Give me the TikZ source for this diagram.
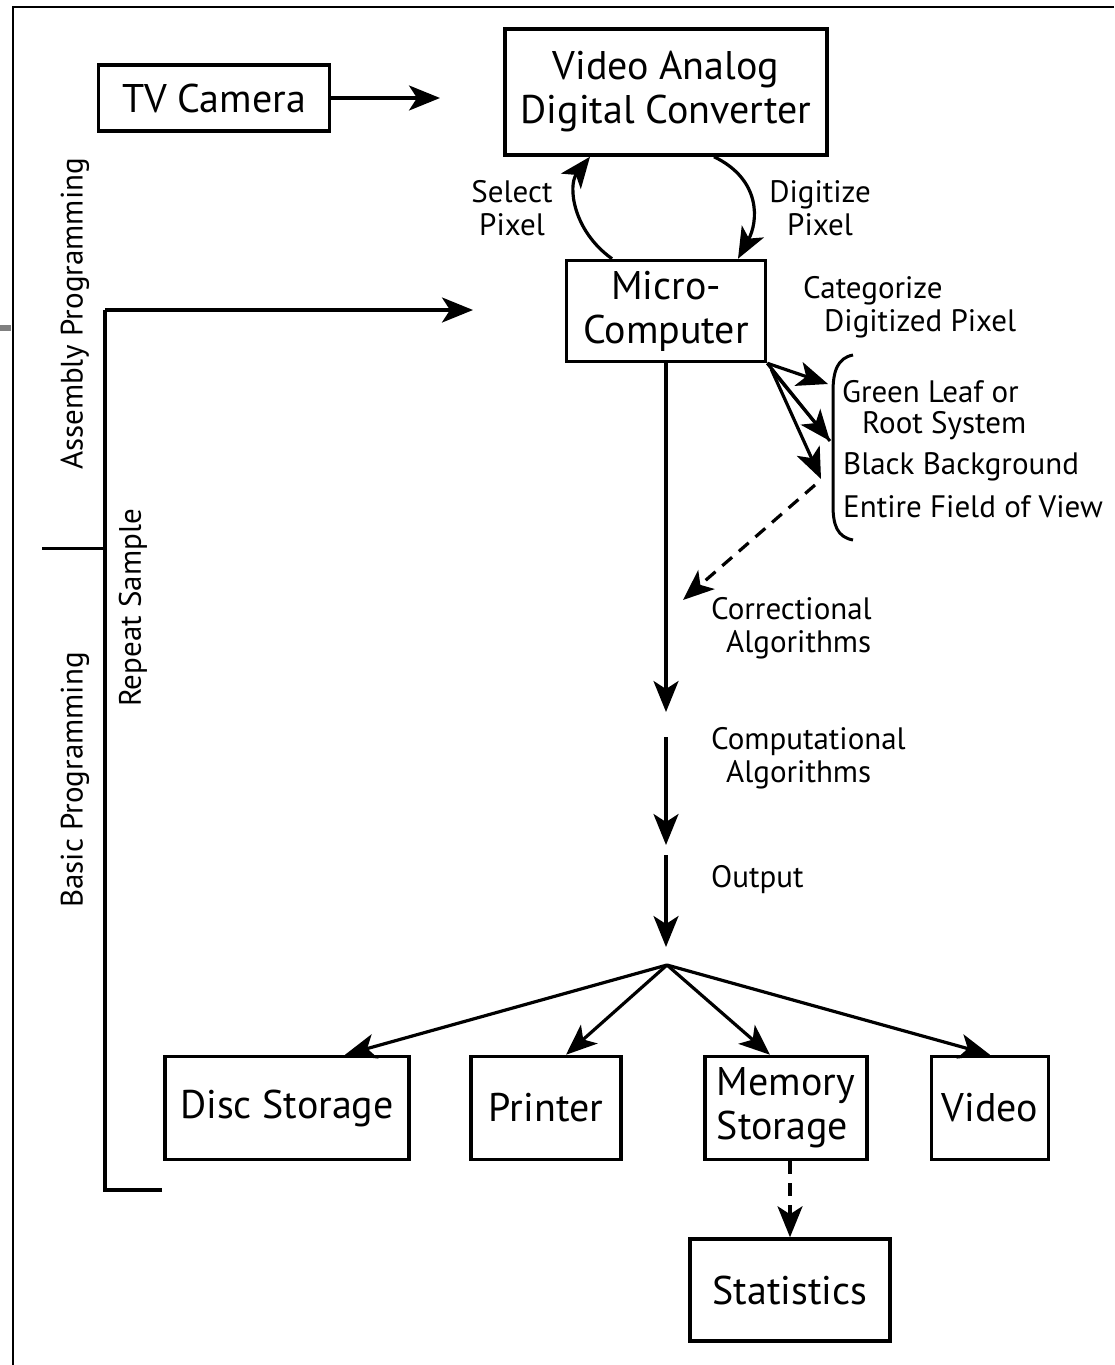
\documentclass[tikz,border=0pt]{standalone}
\usepackage{fontspec}
\setmainfont{PT Sans}
\usetikzlibrary{arrows.meta}

\newcommand\boxfont{\fontsize{40}{44}\selectfont}
\newcommand\lblfont{\fontsize{31}{33}\selectfont}

\tikzset{
  box/.style={draw, line width=3.5pt, font=\boxfont, align=center, inner sep=2pt},
  lbl/.style={font=\lblfont, align=center, inner sep=0pt},
  link/.style={line width=3.2pt, -{Stealth[length=31pt,width=25pt,inset=8pt]}},
  rule/.style={line width=3.5pt},
  frame/.style={line width=2pt},
}

\begin{document}
\begin{tikzpicture}[x=1pt,y=-1pt]
\useasboundingbox (0,0) rectangle (1114,1365);

% Frame
\draw[frame] (1114,7) -- (13,7) -- (13,1365);
\draw[gray, line width=6pt] (0,328) -- (11,328);

% Acquisition
\node[box, minimum width=231pt, minimum height=66pt] (camera) at (214,98) {TV Camera};
\node[box, minimum width=322pt, minimum height=126pt] (adc) at (666,92) {Video Analog\\Digital Converter};
\node[box, minimum width=199pt, minimum height=101pt] (micro) at (666,311) {Micro-\\Computer};

\coordinate (camtip) at (440,98);
\draw[link] (camera) -- (camtip);

\draw[link] ([xshift=-54pt]micro.north) .. controls (572,230) and (568,185) .. ([xshift=-76pt]adc.south);
\draw[link] ([xshift=48pt]adc.south) .. controls (762,180) and (758,222) .. ([xshift=72pt]micro.north);
\node[lbl] (select) at (512,208) {Select\\Pixel};
\node[lbl] (digitize) at (820,208) {Digitize\\Pixel};

% Program loop
\coordinate (asmtip) at (473,310);
\coordinate (asmtop) at (105,310);
\coordinate (asmbot) at (105,1190);
\coordinate (asmfoot) at (162,1190);
\coordinate (split) at (105,548);
\coordinate (splitend) at (42,548);
\draw[rule] (asmfoot) -- (asmbot) -- (asmtop);
\draw[link] (asmtop) -- (asmtip);
\draw[rule, line width=3pt] (splitend) -- (split);

\node[lbl, rotate=90] (asm) at (75,314) {Assembly Programming};
\node[lbl, rotate=90] (basic) at (75,780) {Basic Programming};
\node[lbl, rotate=90] (repeat) at (133,608) {Repeat Sample};

% Categories
\node[lbl, align=left, anchor=north west] (categorize) at (803,276) {Categorize\\\hspace*{21pt}Digitized Pixel};
\node[lbl, align=left, anchor=west] (leaf) at (842,392) {Green Leaf or};
\node[lbl, align=left, anchor=west] (root) at (862,426) {Root System};
\node[lbl, align=left, anchor=west] (black) at (843,467) {Black Background};
\node[lbl, align=left, anchor=west] (field) at (843,507) {Entire Field of View};
\draw[rule, line width=3pt] (853,355) .. controls (837,358) and (833,372) .. (833,392)
  -- (833,505) .. controls (833,525) and (837,537) .. (853,540);

\coordinate (leaftip) at (828,384);
\coordinate (roottip) at (830,441);
\coordinate (blacktip) at (821,479);
\coordinate (fan) at ([shift={(4pt,-6pt)}]micro.south east);
\draw[link] (micro.south east) -- (leaftip);
\draw[link] (micro.south east) -- (roottip);
\draw[rule, line width=3pt] (fan) -- (roottip);
\draw[link] (fan) -- (blacktip);

\coordinate (corrtip) at (683,600);
\draw[link, dashed, dash pattern=on 13pt off 9pt] ([shift={(-6pt,-6pt)}]blacktip) -- (corrtip);

% Processing chain
\coordinate (corrend) at (666,712);
\coordinate (compstart) at (666,737);
\coordinate (compend) at (666,845);
\coordinate (outstart) at (666,855);
\coordinate (outend) at (666,947);
\coordinate (branch) at (667,965);
\draw[link] (micro.south) -- (corrend);
\draw[link] (compstart) -- (compend);
\draw[link] (outstart) -- (outend);

\node[lbl, align=left, anchor=west] (corr) at (711,628) {Correctional\\\hspace*{15pt}Algorithms};
\node[lbl, align=left, anchor=west] (comp) at (711,758) {Computational\\\hspace*{15pt}Algorithms};
\node[lbl, anchor=west] (output) at (711,880) {Output};

% Output devices
\node[box, minimum width=244pt, minimum height=103pt] (disc) at (287,1108) {Disc Storage};
\node[box, minimum width=150pt, minimum height=103pt] (printer) at (546,1108) {Printer};
\node[box, minimum width=162pt, minimum height=103pt, align=left] (memory) at (786,1108) {Memory\\Storage};
\node[box, minimum width=117pt, minimum height=103pt] (video) at (990,1108) {Video};
\node[box, minimum width=200pt, minimum height=102pt] (stats) at (790,1290) {Statistics};

\draw[link] (branch) -- ([xshift=58pt]disc.north);
\draw[link] (branch) -- ([xshift=20pt]printer.north);
\draw[link] (branch) -- ([xshift=-16pt]memory.north);
\draw[link] (branch) -- (video.north);
\draw[link, dashed, dash pattern=on 13pt off 9pt] (stats.north |- memory.south) -- (stats.north);

\end{tikzpicture}
\end{document}
